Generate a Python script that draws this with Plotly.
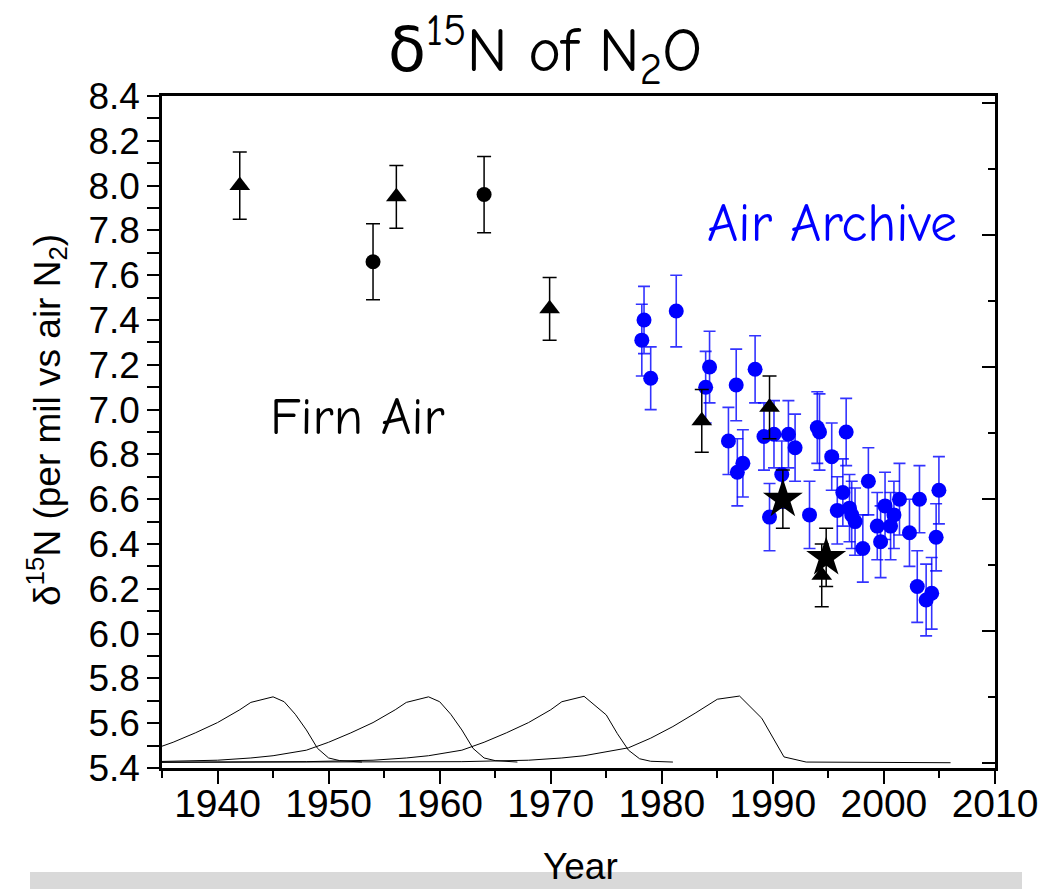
import plotly.graph_objects as go

# --- Air archive measurements (blue) ---
air_year = [1978.4, 1978.2, 1979.0, 1981.3, 1984.3, 1983.95, 1986.7, 1988.4, 1986.0, 1987.3,
            1986.8, 1989.7, 1990.8, 1989.2, 1990.1, 1991.4, 1992.0, 1993.3, 1994.0, 1994.2,
            1996.6, 1995.3, 1996.3, 1995.8, 1996.9, 1997.1, 1997.4, 1998.6, 2000.1, 1999.4,
            2000.9, 2000.6, 2001.4, 2003.2, 2004.95, 1998.1, 1999.7, 2002.3, 2004.7, 2003.0,
            2003.8, 2004.3]
air_d15n = [7.40, 7.31, 7.14, 7.44, 7.19, 7.10, 7.11, 7.18, 6.86, 6.76,
            6.72, 6.52, 6.71, 6.88, 6.89, 6.89, 6.83, 6.53, 6.92, 6.90,
            6.90, 6.79, 6.63, 6.55, 6.56, 6.53, 6.50, 6.68, 6.57, 6.48,
            6.53, 6.48, 6.60, 6.60, 6.64, 6.38, 6.41, 6.45, 6.43, 6.21,
            6.15, 6.18]
air_err = [0.15, 0.16, 0.14, 0.16, 0.16, 0.16, 0.16, 0.15, 0.15, 0.15,
           0.15, 0.15, 0.15, 0.15, 0.15, 0.15, 0.15, 0.15, 0.16, 0.17,
           0.15, 0.15, 0.15, 0.15, 0.15, 0.15, 0.15, 0.15, 0.15, 0.15,
           0.15, 0.15, 0.16, 0.15, 0.15, 0.15, 0.16, 0.15, 0.15, 0.16,
           0.16, 0.16]

# --- Firn air reconstructions (black) ---
tri_year = [1942.0, 1956.1, 1969.9, 1983.6, 1989.7, 1994.4]
tri_d15n = [8.00, 7.95, 7.45, 6.95, 7.01, 6.26]
tri_err = [0.15, 0.14, 0.14, 0.14, 0.14, 0.14]

circ_year = [1954.0, 1964.0]
circ_d15n = [7.66, 7.96]
circ_err = [0.17, 0.17]

star_year = [1990.9, 1994.8]
star_d15n = [6.60, 6.34]
star_err = [0.13, 0.13]

# --- Firn age distributions (secondary axis) ---
ageA_year = [1934, 1936, 1938, 1940, 1942, 1943, 1945, 1946, 1947, 1948, 1949, 1950, 1951, 1953]
ageA_val = [0.0095, 0.0155, 0.0226, 0.0304, 0.0401, 0.0457, 0.0499, 0.0462, 0.0367, 0.0248,
            0.0109, 0.0036, 0.0016, 0.0005]
ageB_year = [1934, 1940, 1943, 1945, 1948, 1950, 1952, 1954, 1956, 1957, 1959, 1960, 1961,
             1962, 1963, 1964, 1965, 1967]
ageB_val = [0.0008, 0.0019, 0.0036, 0.0053, 0.0095, 0.0155, 0.0226, 0.0304, 0.0401, 0.0457,
            0.0499, 0.0462, 0.0367, 0.0248, 0.0109, 0.0036, 0.0016, 0.0005]
ageC_year = [1934, 1948, 1954, 1957, 1959, 1962, 1964, 1966, 1968, 1970, 1971, 1973, 1975,
             1976, 1977, 1978, 1979, 1981]
ageC_val = [0.0004, 0.0008, 0.0019, 0.0036, 0.0053, 0.0095, 0.0155, 0.0226, 0.0304, 0.0401,
            0.0462, 0.0503, 0.0362, 0.0220, 0.0095, 0.0030, 0.0011, 0.0005]
ageD_year = [1934, 1962, 1968, 1971, 1973, 1976, 1977, 1979, 1981, 1983, 1985, 1987, 1989,
             1991, 1993, 2006]
ageD_val = [0.0003, 0.0008, 0.0019, 0.0036, 0.0053, 0.0095, 0.0113, 0.0186, 0.0274, 0.0375,
            0.0481, 0.0505, 0.0337, 0.0044, 0.0005, 0.0]

BLUE = "#0000ff"
fig = go.Figure()

for yrs, vals in [(ageA_year, ageA_val), (ageB_year, ageB_val),
                  (ageC_year, ageC_val), (ageD_year, ageD_val)]:
    fig.add_trace(go.Scatter(x=yrs, y=vals, yaxis="y2", mode="lines",
                             line=dict(color="black", width=1), hoverinfo="skip"))

fig.add_trace(go.Scatter(
    x=air_year, y=air_d15n, mode="markers",
    marker=dict(symbol="circle", size=15, color=BLUE),
    error_y=dict(type="data", array=air_err, color="rgba(0,0,255,0.8)",
                 thickness=1.6, width=6)))

fig.add_trace(go.Scatter(
    x=tri_year, y=tri_d15n, mode="markers",
    marker=dict(symbol="triangle-up", size=18, color="black"),
    error_y=dict(type="data", array=tri_err, color="black", thickness=1.5, width=7)))
fig.add_trace(go.Scatter(
    x=circ_year, y=circ_d15n, mode="markers",
    marker=dict(symbol="circle", size=15, color="black"),
    error_y=dict(type="data", array=circ_err, color="black", thickness=1.5, width=7)))
fig.add_trace(go.Scatter(
    x=star_year, y=star_d15n, mode="markers",
    marker=dict(symbol="star", size=30, color="black"),
    error_y=dict(type="data", array=star_err, color="black", thickness=1.5, width=7)))

x_font = dict(family="Liberation Sans, Arial, sans-serif", size=39, color="black")
y_font = dict(family="Liberation Sans, Arial, sans-serif", size=37, color="black")

fig.update_layout(
    width=1039, height=889,
    margin=dict(l=162, r=44, t=96, b=121),
    paper_bgcolor="white", plot_bgcolor="white",
    showlegend=False,
    xaxis=dict(
        range=[1935, 2010], tickmode="linear", tick0=1940, dtick=10,
        ticks="outside", ticklen=13, tickwidth=2, tickcolor="black",
        minor=dict(dtick=5, tick0=1935, ticks="outside", ticklen=7, tickwidth=2,
                   tickcolor="black"),
        showline=True, linewidth=2.5, linecolor="black", mirror=True,
        showgrid=False, zeroline=False, tickfont=x_font, ticklabelstandoff=-14,
        automargin=False),
    yaxis=dict(
        range=[5.4, 8.4], tickmode="linear", tick0=5.4, dtick=0.2, tickformat=".1f",
        ticks="outside", ticklen=12, tickwidth=2, tickcolor="black",
        minor=dict(dtick=0.1, ticks="outside", ticklen=12, tickwidth=2, tickcolor="black"),
        showline=True, linewidth=2.5, linecolor="black",
        showgrid=False, zeroline=False, tickfont=y_font, ticklabelstandoff=0,
        automargin=False),
    yaxis2=dict(
        overlaying="y", side="right", range=[-0.004, 0.505],
        tickmode="linear", tick0=0, dtick=0.1, showticklabels=False,
        ticks="inside", ticklen=13, tickwidth=2, tickcolor="black",
        minor=dict(dtick=0.05, ticks="inside", ticklen=7, tickwidth=2, tickcolor="black"),
        showline=True, linewidth=3, linecolor="black",
        showgrid=False, zeroline=False, automargin=False),
)

# grey strip along the foot of the page
fig.add_shape(type="rect", xref="paper", yref="paper",
              x0=(30 - 162) / 833, x1=(1022 - 162) / 833,
              y0=-121 / 672, y1=-(872 - 768) / 672,
              fillcolor="#d9d9d9", line=dict(width=0), layer="below")

comic = "Comic Sans MS, Comic Neue, DejaVu Sans, sans-serif"
fig.add_annotation(text="δ<sup>15</sup>N of N<sub>2</sub>O", xref="paper", yref="paper",
                   x=(545 - 162) / 833, y=1 + (96 - 50) / 672,
                   xanchor="center", yanchor="middle", showarrow=False,
                   font=dict(family=comic, size=62, color="black"))
fig.add_annotation(text="Air Archive", xref="x", yref="y", x=1995.3, y=7.83,
                   xanchor="center", yanchor="middle", showarrow=False,
                   font=dict(family=comic, size=54, color=BLUE))
fig.add_annotation(text="Firn Air", xref="x", yref="y", x=1952.6, y=6.97,
                   xanchor="center", yanchor="middle", showarrow=False,
                   font=dict(family=comic, size=53, color="black"))
fig.add_annotation(text="δ<sup>15</sup>N (per mil vs air N<sub>2</sub>)", xref="paper",
                   yref="paper", x=(47 - 162) / 833, y=(768 - 420) / 672, textangle=-90,
                   xanchor="center", yanchor="middle", showarrow=False,
                   font=dict(family="Liberation Sans, Arial, sans-serif", size=37,
                             color="black"))
fig.add_annotation(text="Year", xref="paper", yref="paper",
                   x=(580 - 162) / 833, y=-(866 - 768) / 672,
                   xanchor="center", yanchor="middle", showarrow=False,
                   font=dict(family="Liberation Sans Narrow, Liberation Sans, Arial",
                             size=37, color="black"))

fig.write_html("out.html")
